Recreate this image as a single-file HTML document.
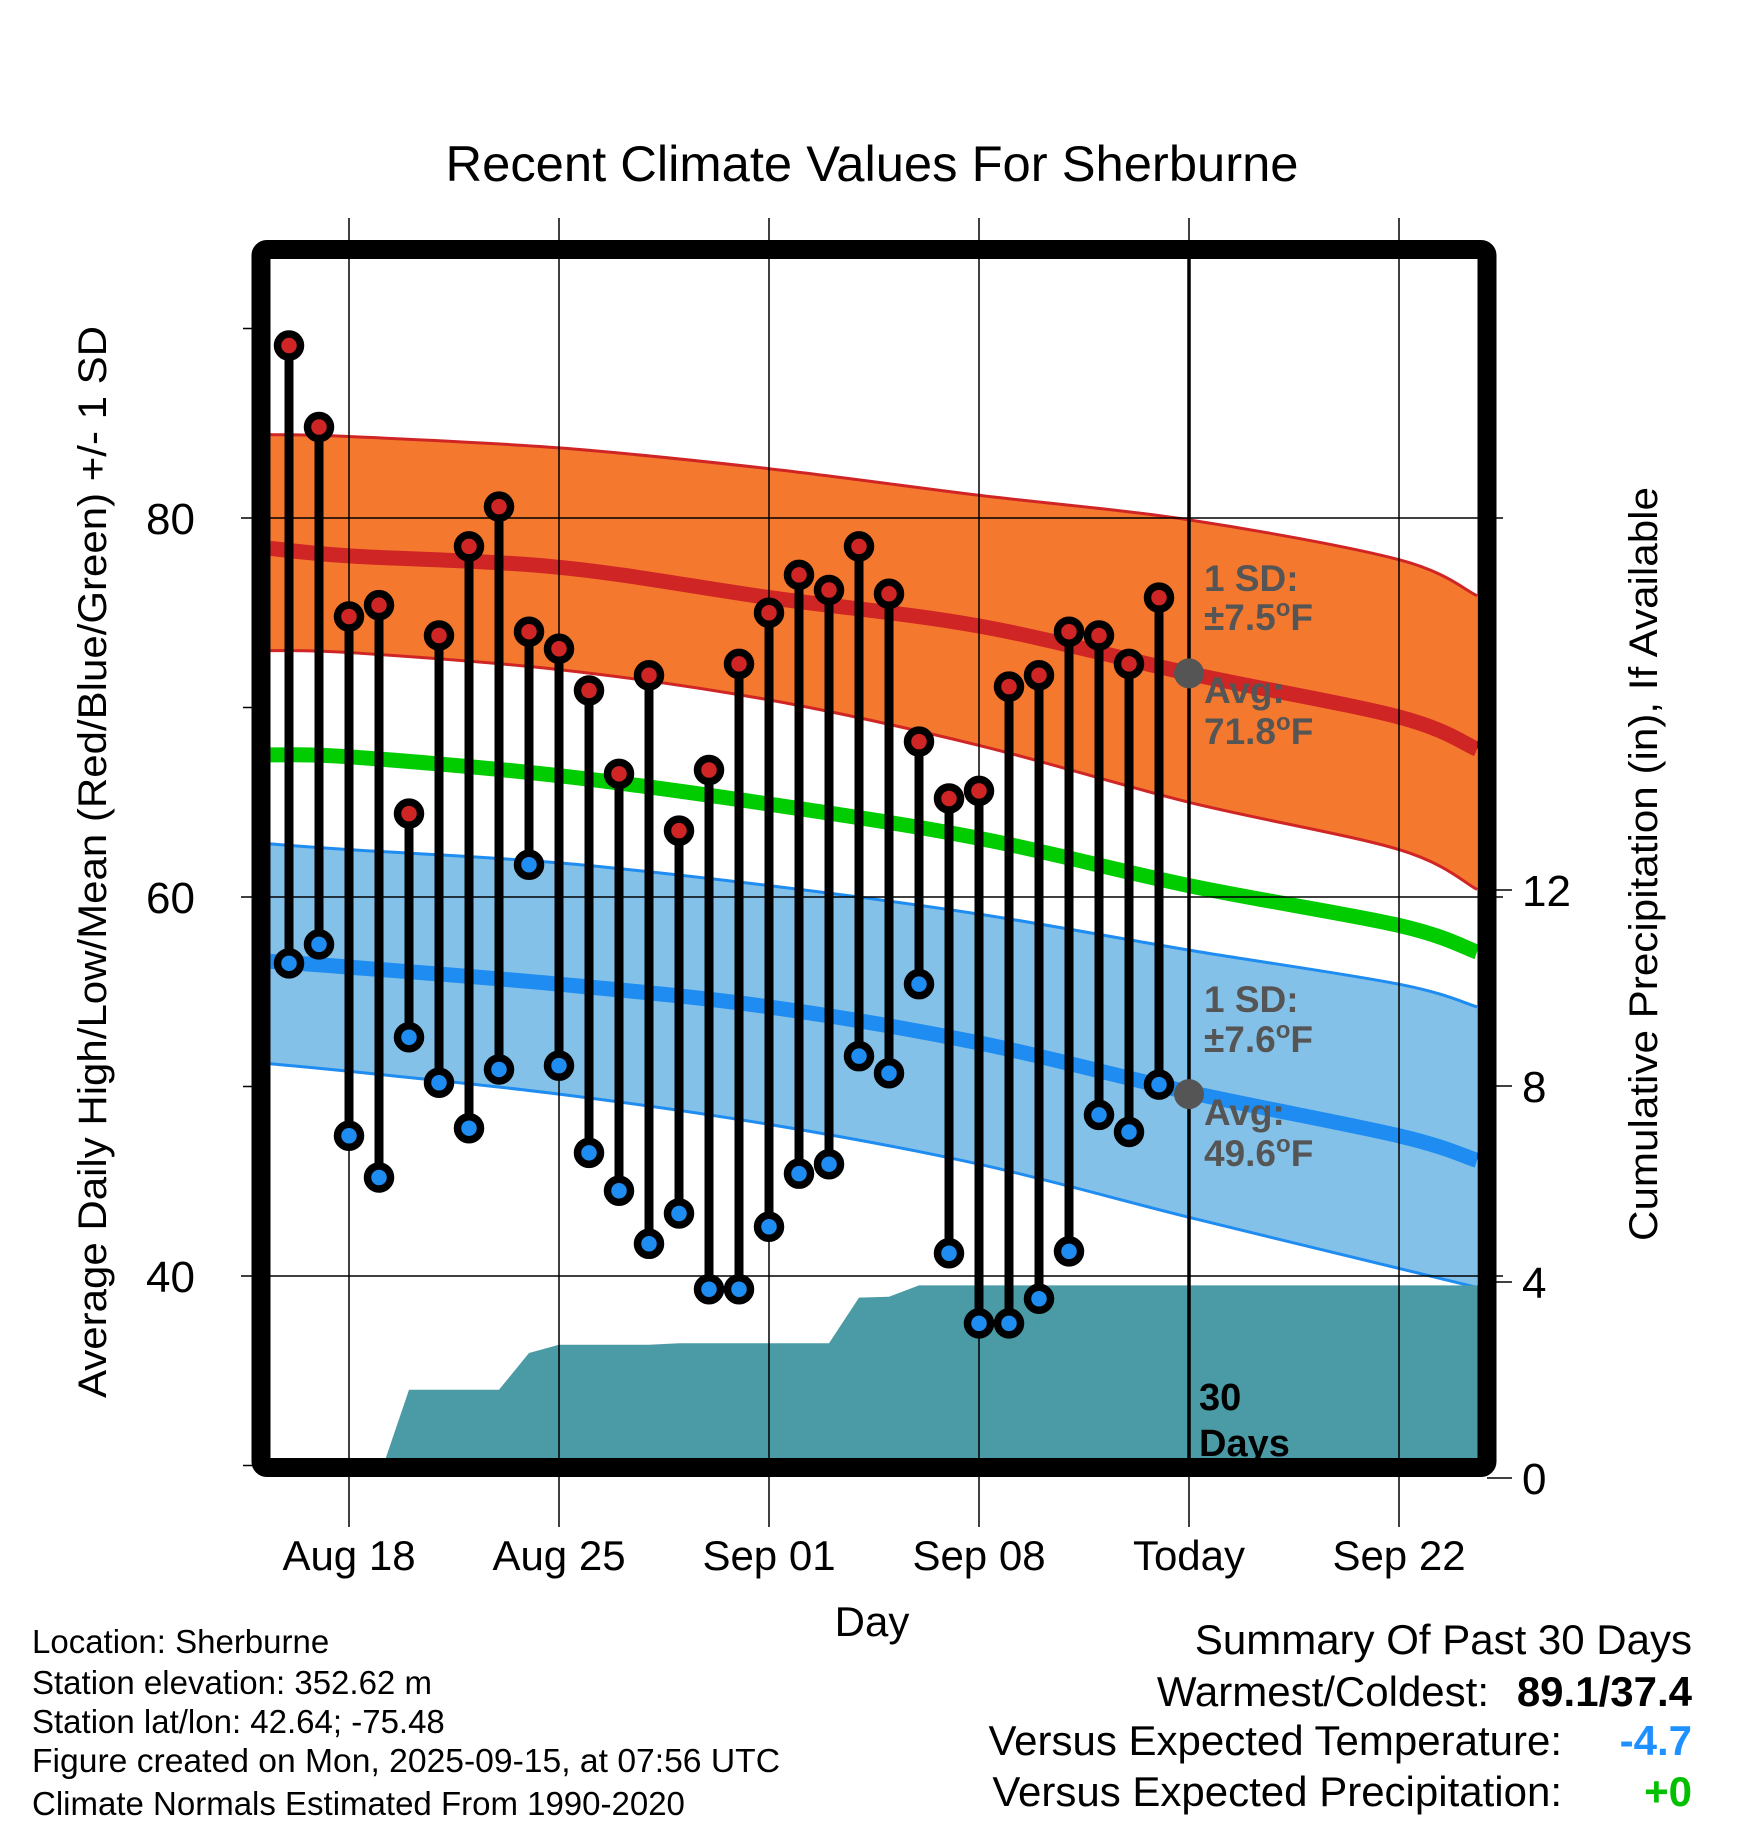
<!DOCTYPE html>
<html><head><meta charset="utf-8"><style>
body{margin:0;background:#fff}
svg{display:block;font-family:"Liberation Sans",sans-serif}
</style></head><body>
<svg id="c" width="1748" height="1828" viewBox="0 0 1748 1828" xmlns="http://www.w3.org/2000/svg">
<defs><clipPath id="pc"><rect x="270" y="259" width="1208" height="1209"/></clipPath></defs>
<text x="872" y="181" font-size="50" text-anchor="middle" textLength="853" lengthAdjust="spacingAndGlyphs">Recent Climate Values For Sherburne</text>
<g id="bg" clip-path="url(#pc)"></g>
<g id="grid"></g>
<g id="marks" clip-path="url(#pc)"></g>
<rect x="261" y="249.5" width="1226" height="1218" rx="6" fill="none" stroke="#000" stroke-width="19"/>
<g id="axes"></g>
<text transform="translate(106,862) rotate(-90)" font-size="40" text-anchor="middle" textLength="1072" lengthAdjust="spacingAndGlyphs">Average Daily High/Low/Mean (Red/Blue/Green) +/- 1 SD</text>
<text transform="translate(1657,864) rotate(-90)" font-size="40" text-anchor="middle" textLength="754" lengthAdjust="spacingAndGlyphs">Cumulative Precipitation (in), If Available</text>
<text x="872" y="1636" font-size="42" text-anchor="middle">Day</text>
<g font-size="33">
<text x="32" y="1653">Location: Sherburne</text>
<text x="32" y="1694">Station elevation: 352.62 m</text>
<text x="32" y="1733">Station lat/lon: 42.64; -75.48</text>
<text x="32" y="1772" textLength="748" lengthAdjust="spacingAndGlyphs">Figure created on Mon, 2025-09-15, at 07:56 UTC</text>
<text x="32" y="1815">Climate Normals Estimated From 1990-2020</text>
</g>
<g font-size="42" text-anchor="end">
<text x="1692" y="1654">Summary Of Past 30 Days</text>
<text x="1489" y="1706">Warmest/Coldest:</text>
<text x="1692" y="1706" font-weight="bold">89.1/37.4</text>
<text x="1562" y="1755">Versus Expected Temperature:</text>
<text x="1692" y="1755" font-weight="bold" fill="#1e90ff">-4.7</text>
<text x="1562" y="1806">Versus Expected Precipitation:</text>
<text x="1692" y="1806" font-weight="bold" fill="#00c000">+0</text>
</g>
</svg>
<script>
const highs=[89.1,84.8,74.8,75.4,64.4,73.8,78.5,80.6,74.0,73.1,70.9,66.5,71.7,63.5,66.7,72.3,75.0,77.0,76.2,78.5,76.0,68.2,65.2,65.6,71.1,71.7,74.0,73.8,72.3,75.8];
const lows=[56.5,57.5,47.4,45.2,52.6,50.2,47.8,50.9,61.7,51.1,46.5,44.5,41.7,43.3,39.3,39.3,42.6,45.4,45.9,51.6,50.7,55.4,41.2,37.5,37.5,38.8,41.3,48.5,47.6,50.1];
const precip=[0,0,0,0,1.8,1.8,1.8,1.8,2.55,2.72,2.72,2.72,2.72,2.75,2.75,2.75,2.75,2.75,2.75,3.68,3.7,3.93,3.93,3.93,3.93,3.93,3.93,3.93,3.93,3.93];
const normDays=[-0.63,2,9,16,23,30,37,39.6];
const normHigh=[78.4,78.0,77.4,75.8,74.3,71.8,69.5,67.8];
const highUpper=[84.4,84.3,83.7,82.6,81.2,79.9,77.8,75.9];
const highLower=[73.0,72.9,72.0,70.4,68.0,65.0,62.5,60.4];
const normMean=[67.5,67.4,66.4,64.9,63.1,60.6,58.5,57.1];
const normLow=[56.6,56.3,55.4,54.2,52.3,49.7,47.4,46.1];
const lowUpper=[62.8,62.5,61.8,60.6,59.1,57.2,55.4,54.2];
const lowLower=[51.2,50.8,49.6,48.0,45.9,43.1,40.4,39.4];
const xTickDays=[2,9,16,23,30,37];
const xTickLabels=["Aug 18","Aug 25","Sep 01","Sep 08","Today","Sep 22"];
const yTicks=[40,60,80];
const yMinor=[30,50,70,90];
const pTicks=[0,4,8,12];
const todayDay=30;

const X=d=>289+30*d;
const Y=t=>518-(t-80)*18.95;
const YP=p=>1478-p*49;
const NS="http://www.w3.org/2000/svg";
function mk(parent,tag,attrs,txt){const e=document.createElementNS(NS,tag);for(const k in attrs)e.setAttribute(k,attrs[k]);if(txt!==undefined)e.textContent=txt;document.getElementById(parent).appendChild(e);return e;}
// smooth catmull-rom segments through the points
function smooth(pts,start){
 let s=start?("M"+pts[0][0].toFixed(1)+","+pts[0][1].toFixed(1)):("L"+pts[0][0].toFixed(1)+","+pts[0][1].toFixed(1));
 for(let i=0;i<pts.length-1;i++){
  const p0=pts[Math.max(0,i-1)],p1=pts[i],p2=pts[i+1],p3=pts[Math.min(pts.length-1,i+2)];
  const c1=[p1[0]+(p2[0]-p0[0])/6,p1[1]+(p2[1]-p0[1])/6];
  const c2=[p2[0]-(p3[0]-p1[0])/6,p2[1]-(p3[1]-p1[1])/6];
  s+=" C"+c1.map(v=>v.toFixed(1)).join(",")+" "+c2.map(v=>v.toFixed(1)).join(",")+" "+p2.map(v=>v.toFixed(1)).join(",");
 }
 return s;
}
const P=arr=>normDays.map((d,i)=>[X(d),Y(arr[i])]);
const line=arr=>smooth(P(arr),true);
const band=(a,b)=>smooth(P(a),true)+" "+smooth(P(b).reverse(),false)+" Z";

let e;
e=mk("bg","path",{d:band(highUpper,highLower),fill:"#f4792e"});

e=mk("bg","path",{d:line(highUpper),fill:"none",stroke:"#d02525","stroke-width":3});

e=mk("bg","path",{d:line(highLower),fill:"none",stroke:"#d02525","stroke-width":3});

e=mk("bg","path",{d:band(lowUpper,lowLower),fill:"#84c1e8"});

e=mk("bg","path",{d:line(lowUpper),fill:"none",stroke:"#1e8cf0","stroke-width":3});

e=mk("bg","path",{d:line(lowLower),fill:"none",stroke:"#1e8cf0","stroke-width":3});

e=mk("bg","path",{d:line(normHigh),fill:"none",stroke:"#d02525","stroke-width":15});

e=mk("bg","path",{d:line(normMean),fill:"none",stroke:"#00cc00","stroke-width":15});

e=mk("bg","path",{d:line(normLow),fill:"none",stroke:"#1e8cf0","stroke-width":15});

let pts=[X(0)+","+YP(0)];
precip.forEach((p,i)=>pts.push(X(i)+","+YP(p)));
pts.push("1480,"+YP(precip[precip.length-1]));pts.push("1480,"+YP(0));
e=mk("bg","polygon",{points:pts.join(" "),fill:"#4a9ba5"});


xTickDays.forEach((d,i)=>{
 e=mk("grid","line",{x1:X(d),x2:X(d),y1:218,y2:1527,stroke:"#000","stroke-width":1.5});
 
 e=mk("axes","text",{x:X(d),y:1570,"font-size":42,"text-anchor":"middle"},xTickLabels[i]);
 
});
yTicks.forEach(t=>{
 e=mk("grid","line",{x1:241,x2:1503,y1:Y(t),y2:Y(t),stroke:"#000","stroke-width":1.5});
 
 e=mk("axes","text",{x:195,y:Y(t)+16,"font-size":44,"text-anchor":"end"},String(t));
 
});
yMinor.forEach(t=>{
 e=mk("grid","line",{x1:243,x2:262,y1:Y(t),y2:Y(t),stroke:"#000","stroke-width":1.5});
 
});
pTicks.forEach(p=>{
 e=mk("axes","line",{x1:1487,x2:1512,y1:YP(p),y2:YP(p),stroke:"#000","stroke-width":1.5});
 
 e=mk("axes","text",{x:1522,y:YP(p)+16,"font-size":44},String(p));
 
});

highs.forEach((h,i)=>{
 e=mk("marks","line",{x1:X(i),x2:X(i),y1:Y(h),y2:Y(lows[i]),stroke:"#000","stroke-width":9});
 
});
highs.forEach((h,i)=>{
 e=mk("marks","circle",{cx:X(i),cy:Y(h),r:11.5,fill:"#d02525",stroke:"#000","stroke-width":7.5});
 
 e=mk("marks","circle",{cx:X(i),cy:Y(lows[i]),r:11.5,fill:"#1e8cf0",stroke:"#000","stroke-width":7.5});
 
});
e=mk("marks","line",{x1:X(todayDay),x2:X(todayDay),y1:259,y2:1468,stroke:"#000","stroke-width":3.5});

e=mk("marks","circle",{cx:X(todayDay),cy:Y(71.8),r:15,fill:"#555"});

e=mk("marks","circle",{cx:X(todayDay),cy:Y(49.6),r:15,fill:"#555"});

const ann=[["1 SD:",591,""],["±7.5",630,"F"],["Avg:",703,""],["71.8",744,"F"],["1 SD:",1012,""],["±7.6",1052,"F"],["Avg:",1125,""],["49.6",1166,"F"]];
ann.forEach(a=>{
 e=mk("marks","text",{x:1204,y:a[1],"font-size":37,"font-weight":"bold",fill:"#555"},a[0]);
 
 if(a[2]){
  const s1=document.createElementNS(NS,"tspan");s1.setAttribute("dy","-14");s1.setAttribute("font-size","24");s1.textContent="o";e.appendChild(s1);
  const s2=document.createElementNS(NS,"tspan");s2.setAttribute("dy","14");s2.textContent=a[2];e.appendChild(s2);
 }
});
e=mk("marks","text",{x:1199,y:1410,"font-size":38,"font-weight":"bold"},"30");

e=mk("marks","text",{x:1199,y:1456,"font-size":38,"font-weight":"bold"},"Days");

</script>
</body></html>
